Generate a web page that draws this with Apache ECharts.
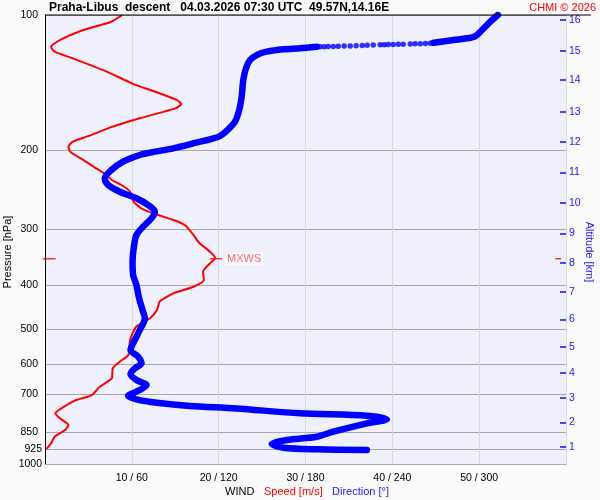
<!DOCTYPE html>
<html>
<head>
<meta charset="utf-8">
<script src="https://cdn.jsdelivr.net/npm/echarts@6/dist/echarts.min.js"></script>
<style>
  html, body { margin: 0; background: #fafafa; }
  #main { width: 600px; height: 500px; }
</style>
</head>
<body>
<div id="main"></div>
<script>
// pressure levels with labels / grid lines [hPa]
const pressureTicks = [100, 200, 300, 400, 500, 600, 700, 850, 925, 1000];
// altitude scale on the right: km and the pressure where it sits
const altKm = [1, 2, 3, 4, 5, 6, 7, 8, 9, 10, 11, 12, 13, 14, 15, 16];
const altPressure = [915.1, 807.6, 711.8, 626.2, 548.0, 476.2, 413.4, 356.2, 306.3, 261.8, 224.0, 191.5, 164.4, 139.5, 120.1, 102.6];

// wind speed [m/s] vs pressure [hPa]
const speedPressure = [100, 103.8, 108, 113.7, 117.7, 120.7, 124.9, 133.7, 142.5, 148.2, 154.7, 157.8, 161.4, 169.8, 177.3, 186.6, 191.5, 196.5, 201.6, 210.3, 219.5, 227.2, 233.1, 239.1, 247.5, 260.5, 269.5, 278.9, 286.1, 293.6, 309, 322.4, 336.6, 347.6, 357.3, 373, 389.3, 402.9, 416.8, 435.1, 454, 473.8, 494.6, 529.4, 571.8, 591.8, 612.2, 644.4, 672.8, 702.1, 720.3, 739, 771.2, 791.2, 818.8, 840.1, 869.4, 899.3, 925];
const speedValues = [8.9, 7.5, 4.4, 1.7, 0.7, 1.1, 3.2, 7.1, 10.2, 12.7, 15.2, 15.7, 15.0, 10.9, 7.8, 4.8, 3.2, 2.7, 2.9, 4.4, 5.9, 7.1, 7.7, 8.8, 9.8, 10.2, 11.1, 13.0, 14.8, 16.1, 17.1, 17.8, 19.0, 19.6, 19.0, 18.2, 18.3, 17.1, 14.8, 13.2, 12.9, 12.1, 10.5, 9.8, 9.6, 8.6, 7.8, 7.7, 6.3, 5.4, 3.6, 2.5, 1.2, 1.7, 2.7, 2.3, 1.1, 0.7, 0.2];

// wind direction [deg] vs pressure, top dense part
const dirTopPressure = [100, 103.5, 108, 111.4, 112.7, 113.7, 115.3];
const dirTopValues = [312.9, 307.7, 302.0, 297.4, 291.6, 282.3, 268.5];
// sparse single readings
const dirDotPressure = [115.6, 115.7, 115.9, 115.9, 116.0, 116.2, 116.2, 116.3, 116.4, 116.5, 116.5, 116.6, 116.8, 116.9, 117.1, 117.2, 117.3, 117.4, 117.5, 117.6, 117.7, 117.7];
const dirDotValues = [266.2, 262.8, 259.3, 255.8, 252.4, 247.5, 244.1, 240.6, 237.2, 234.4, 231.6, 226.8, 222.6, 219.2, 215.0, 210.9, 206.7, 202.6, 199.2, 195.7, 192.9, 190.1];
// lower dense part
const dirPressure = [117.7, 118.6, 119.2, 120.7, 122.8, 126.0, 131.4, 139.5, 152.0, 162.8, 172.8, 179.7, 186.0, 189.2, 191.5, 198.1, 202.6, 205.0, 212.2, 221.4, 231.1, 239.1, 247.5, 256.0, 265.0, 274.3, 283.7, 296.1, 309.0, 325.2, 354.4, 379.4, 399.5, 427.6, 458.0, 473.8, 503.0, 529.4, 557.4, 576.8, 596.7, 612.2, 630.4, 650.0, 667.0, 684.2, 705.6, 717.7, 730.4, 742.8, 752.3, 771.2, 780.7, 795.3, 811.9, 847.4, 869.4, 884.5, 902.5, 919.7, 927.4, 930.6];
const dirValues = [187.8, 176.3, 164.7, 153.2, 146.3, 141.7, 138.9, 137.0, 135.9, 134.2, 131.3, 126.6, 120.9, 114.0, 107.1, 88.6, 72.5, 65.5, 54.0, 45.9, 41.3, 43.6, 51.7, 63.2, 71.3, 75.9, 73.6, 67.8, 63.2, 61.6, 60.5, 60.9, 63.2, 65.0, 67.8, 69.0, 65.5, 62.1, 59.1, 64.4, 66.7, 62.1, 59.1, 63.2, 70.2, 65.5, 57.4, 63.2, 77.1, 100.1, 132.0, 176.3, 222.4, 236.2, 222.4, 199.3, 187.8, 167.0, 156.7, 164.7, 187.8, 222.4];

// max wind: speed [m/s], pressure [hPa]
const maxWind = [19.7, 349];

const FONT = 'Liberation Sans, Arial, sans-serif';
const zip = (xs, ps) => xs.map((v, i) => [v, ps[i]]);
const dirToX = d => d / 6; // 360 deg spans the same width as 60 m/s

const chart = echarts.init(document.getElementById('main'));

const option = {
  backgroundColor: '#fafafa',
  animation: false,
  textStyle: { fontFamily: FONT },
  title: [
    {
      text: 'Praha-Libus  descent   04.03.2026 07:30 UTC  49.57N,14.16E',
      left: 49, top: 1, padding: 0,
      textStyle: { fontSize: 12, fontWeight: 'bold', color: '#000', fontFamily: FONT, lineHeight: 13 }
    },
    {
      text: 'CHMI © 2026',
      right: 4, top: 1, padding: 0,
      textStyle: { fontSize: 11, fontWeight: 'normal', color: '#ff0000', fontFamily: FONT, lineHeight: 13 }
    }
  ],
  grid: {
    left: 45, top: 15, width: 521, height: 449,
    show: true, backgroundColor: '#f0f0fc', borderWidth: 0
  },
  xAxis: {
    type: 'value', min: 0, max: 60, interval: 10,
    axisLine: { lineStyle: { color: '#a8a8a8' } },
    axisTick: { show: false },
    axisLabel: {
      margin: 9, fontSize: 10.5, color: '#000', fontFamily: FONT,
      formatter: v => (v === 0 || v === 60) ? '' : v + ' / ' + v * 6
    },
    splitLine: { show: true, lineStyle: { color: '#d9d9e0' } }
  },
  yAxis: [
    {
      type: 'log', logBase: 10, min: 100, max: 1000, inverse: true,
      axisLine: { show: true, lineStyle: { color: '#000' } },
      axisTick: { show: false, customValues: pressureTicks },
      axisLabel: {
        customValues: pressureTicks, margin: 3, color: '#000',
        formatter: v => (v === 925 || v === 1000) ? '{n|' + v + '}' : '{f|' + v + '}',
        rich: {
          n: { fontSize: 10.5, fontFamily: FONT, color: '#000' },
          f: { fontSize: 10.5, fontFamily: FONT, color: '#000', padding: [0, 4, 0, 0] }
        }
      },
      splitLine: { show: true, lineStyle: { color: '#a8a8a8' } }
    },
    {
      type: 'log', logBase: 10, min: 100, max: 1000, inverse: true, position: 'right',
      axisLine: { show: false },
      axisTick: {
        show: true, inside: true, length: 6, customValues: altPressure,
        lineStyle: { color: '#1010ff', width: 1.5 }
      },
      axisLabel: {
        customValues: altPressure, margin: 3, fontSize: 10.5, color: '#2020f0', fontFamily: FONT,
        formatter: v => {
          let best = 0;
          altPressure.forEach((p, i) => { if (Math.abs(p - v) < Math.abs(altPressure[best] - v)) best = i; });
          return String(altKm[best]);
        }
      },
      splitLine: { show: false }
    }
  ],
  series: [
    {
      name: 'Speed', type: 'line',
      data: zip(speedValues, speedPressure),
      showSymbol: false, smooth: 0.2,
      lineStyle: { color: '#ff0000', width: 2 },
      z: 2
    },
    {
      name: 'Direction top', type: 'line',
      data: zip(dirTopValues.map(dirToX), dirTopPressure),
      showSymbol: false, smooth: 0.3,
      lineStyle: { color: '#0000ff', width: 6.5, cap: 'round', join: 'round' },
      z: 3
    },
    {
      name: 'Direction dots', type: 'scatter',
      data: zip(dirDotValues.map(dirToX), dirDotPressure),
      symbol: 'circle', symbolSize: 5.5,
      itemStyle: { color: '#0000ff' },
      z: 3
    },
    {
      name: 'Direction', type: 'line',
      data: zip(dirValues.map(dirToX), dirPressure),
      showSymbol: false, smooth: 0.3,
      lineStyle: { color: '#0000ff', width: 6.5, cap: 'round', join: 'round' },
      z: 3
    },
    {
      name: 'MXWS', type: 'scatter',
      data: [maxWind],
      symbol: 'rect', symbolSize: [12, 1.5],
      itemStyle: { color: '#ff0000' },
      label: {
        show: true, position: 'right', distance: 3, formatter: 'MXWS',
        color: '#ff4040', fontSize: 11, fontFamily: FONT,
        backgroundColor: '#ffffff', padding: [1, 2, 0, 2]
      },
      z: 5
    },
    {
      name: 'MXWS level', type: 'scatter', clip: false, silent: true,
      data: [[0.48, maxWind[1]], [59.1, maxWind[1]]],
      symbol: 'rect',
      symbolSize: (val, params) => params.dataIndex === 0 ? [13, 1.5] : [6, 1.5],
      itemStyle: { color: '#ff0000' },
      z: 5
    }
  ],
  graphic: [
    { type: 'line', shape: { x1: 45, y1: 15, x2: 591, y2: 15 }, style: { stroke: '#000', lineWidth: 1 }, z: 10 },
    {
      type: 'text', x: 8, y: 252, rotation: Math.PI / 2,
      style: { text: 'Pressure [hPa]', fill: '#000', font: '11px ' + FONT, textAlign: 'center', textVerticalAlign: 'middle' }
    },
    {
      type: 'text', x: 589, y: 252, rotation: -Math.PI / 2,
      style: { text: 'Altitude [km]', fill: '#2020f0', font: '11px ' + FONT, textAlign: 'center', textVerticalAlign: 'middle' }
    },
    { type: 'text', x: 225, y: 492, style: { text: 'WIND', fill: '#000', font: '11px ' + FONT, textVerticalAlign: 'middle' } },
    { type: 'text', x: 264, y: 492, style: { text: 'Speed [m/s]', fill: '#ff0000', font: '11px ' + FONT, textVerticalAlign: 'middle' } },
    { type: 'text', x: 332, y: 492, style: { text: 'Direction [°]', fill: '#2020f0', font: '11px ' + FONT, textVerticalAlign: 'middle' } }
  ]
};

chart.setOption(option);
</script>
</body>
</html>
